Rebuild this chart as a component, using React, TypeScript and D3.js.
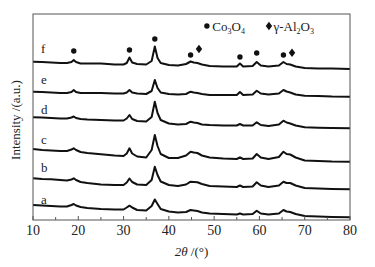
import React from "react";
import * as d3 from "d3";

// 2θ sampling grid (degrees)
const twoTheta = [10,12,14,16,17.5,18.5,19,19.5,20.5,22,25,28,30,30.7,31.3,31.9,33,35,36.2,36.9,37.5,38.2,40,42,43.8,44.8,45.5,46.3,47.3,49,52,55,55.7,56.4,58.5,59.4,60.3,62,64.3,65.3,66,66.8,68,70,73,76,80];

// Stacked intensities (a.u., offset included)
const seriesA = [15,14.5,14,13.5,13.5,15,16,14.5,13,12,11,10.5,10.5,12.5,14.3,12.5,10,9.5,14,20.5,16,11,8.5,7.5,8,10,9.5,9,7.5,6.5,6,5.5,6.5,5.5,6,9.3,6.5,5.5,6.5,10,8.5,8,6,4,3.5,3,2.7];
const seriesB = [41.7,41,40.7,40,39.5,40.5,41.7,40,38,37,35.5,35,35,37.5,41.5,38,35.5,35,40,53.3,45,38.5,35,34,35.5,38.3,38,37.7,36,34,33.5,33,34.5,33,33.5,37.7,34.5,33,34.5,38.3,37,37,34.5,32,31.5,31,30.7];
const seriesC = [71,70,69.5,69,69,70.5,71.7,70,68,67,65.7,64.5,64,66.5,71.7,66.5,63.5,62.5,70,85,74,66,62,62,64.5,68.3,67.5,67,64.5,62.5,61.5,61,62.7,61,61.5,66,62.5,61,63,68.3,66,65.5,62.5,59.5,59,58.5,58.3];
const seriesD = [102.7,102.5,102,101.5,101.5,102.5,103.5,102,101,100.5,100,99.5,99.5,101.5,105,101,99,98.5,103,118.3,107,100,96.5,95.5,96,98.3,97.5,97,95.5,95,94.5,94.5,96,94.5,94.5,97.7,95,94,95.5,99.3,97.5,96.5,94.5,92.7,92.2,92,91.7];
const seriesE = [128.3,128,127.5,127,127,128,130,128,127,127,127,126.5,126.5,127.5,130,127.5,126.5,126,129,140,132,127.5,126,125.5,126,128.3,127.5,127,126,125,125,125,128,125,125.5,129.3,126.5,125.5,126.5,130,128.5,127.5,125.5,124.3,124,123.5,123.3];
const seriesF = [158.3,158,157.5,157,157,158,160,158,156.5,156.5,156.5,155.5,155.5,157,162.5,157.5,156,155.5,159,173.5,162,157,155,154.5,156,158.5,157.5,157,155.5,154,153.5,153.5,156.5,153.5,154,158,154.5,153.5,154.5,158,156,155.5,153.5,152,151.5,151.5,151];

const seriesNames = ["a","b","c","d","e","f"];
const labelLevels = [16, 48, 76, 106, 136, 167];

// Phase markers above trace f
const co3o4Pos = [19, 31.3, 36.9, 44.8, 55.7, 59.4, 65.3];
const co3o4Height = [169, 170, 181, 165, 163, 167, 165];
const al2o3Pos = [46.65, 67.2];
const al2o3Height = [171, 167.3];

const xTicks = [10,20,30,40,50,60,70,80];
const xMinorTicks = [15,25,35,45,55,65,75];

const W = 375, H = 267;
const M = { left: 33, right: 350, top: 14, bottom: 220 };
const FONT = "'Liberation Serif', 'Times New Roman', serif";

export default function App() {
  const x = d3.scaleLinear().domain([10, 80]).range([M.left, M.right]);
  const y = d3.scaleLinear().domain([0, 206]).range([M.bottom, M.top]);
  const all = [seriesA, seriesB, seriesC, seriesD, seriesE, seriesF];
  const line = d3.line<number>().x((_, i) => x(twoTheta[i])).y((d) => y(d));
  const diamond = (cx: number, cy: number) =>
    `M${cx},${cy - 4.2}L${cx + 3.2},${cy}L${cx},${cy + 4.2}L${cx - 3.2},${cy}Z`;

  return (
    <svg width={W} height={H} style={{ position: "fixed", left: 0, top: 0, background: "#fff" }} fontFamily={FONT}>
      <rect x={0} y={0} width={W} height={H} fill="#fff" />
      {/* traces */}
      {all.map((s, i) => (
        <path key={i} d={line(s) || ""} fill="none" stroke="#111" strokeWidth={2} strokeLinejoin="round" />
      ))}
      {/* trace labels */}
      {seriesNames.map((n, i) => (
        <text key={n} x={41} y={y(labelLevels[i])} fontSize={13} fill="#222">{n}</text>
      ))}
      {/* markers */}
      {co3o4Pos.map((p, i) => (
        <circle key={"c" + i} cx={x(p)} cy={y(co3o4Height[i])} r={2.7} fill="#111" />
      ))}
      {al2o3Pos.map((p, i) => (
        <path key={"d" + i} d={diamond(x(p), y(al2o3Height[i]))} fill="#111" />
      ))}
      {/* legend */}
      <circle cx={x(48.4)} cy={y(194)} r={2.7} fill="#111" />
      <text x={x(49.6)} y={y(189.5)} fontSize={13} fill="#222">
        Co<tspan fontSize={8} dy={3}>3</tspan><tspan dy={-3}>O</tspan><tspan fontSize={8} dy={3}>4</tspan>
      </text>
      <path d={diamond(x(62.1), y(194))} fill="#111" />
      <text x={x(63.1)} y={y(189.5)} fontSize={13} fill="#222">
        γ-Al<tspan fontSize={8} dy={3}>2</tspan><tspan dy={-3}>O</tspan><tspan fontSize={8} dy={3}>3</tspan>
      </text>
      {/* frame */}
      <rect x={M.left} y={M.top} width={M.right - M.left} height={M.bottom - M.top} fill="none" stroke="#555" strokeWidth={1} />
      {/* ticks */}
      {xTicks.map((t) => (
        <line key={"t" + t} x1={x(t)} x2={x(t)} y1={M.bottom} y2={M.bottom - 4} stroke="#555" />
      ))}
      {xMinorTicks.map((t) => (
        <line key={"m" + t} x1={x(t)} x2={x(t)} y1={M.bottom} y2={M.bottom - 3} stroke="#555" />
      ))}
      {xTicks.map((t) => (
        <text key={"l" + t} x={x(t)} y={235} fontSize={14} textAnchor="middle" fill="#222">{t}</text>
      ))}
      {/* axis titles */}
      <text x={(M.left + M.right) / 2} y={256} fontSize={13} textAnchor="middle" fill="#222">
        <tspan fontStyle="italic">2θ</tspan> /(°)
      </text>
      <text transform="translate(20,120) rotate(-90)" fontSize={13} textAnchor="middle" fill="#222">
        Intensity /(a.u.)
      </text>
    </svg>
  );
}
